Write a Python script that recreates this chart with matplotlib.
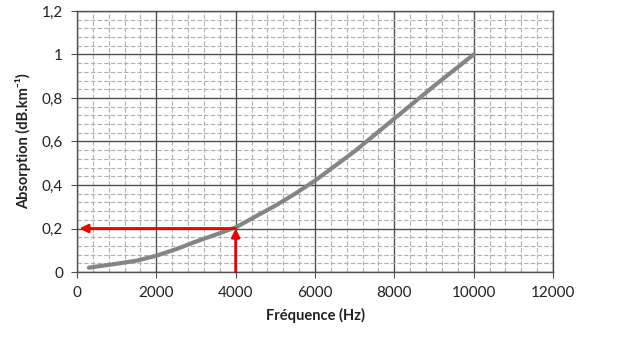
import matplotlib
matplotlib.use("Agg")
import matplotlib.pyplot as plt
from matplotlib.ticker import MultipleLocator, FuncFormatter

freq = [300, 1000, 1500, 2000, 2500, 3000, 3500, 4000, 4500, 5000, 5500, 6000,
        7000, 8000, 9000, 10000]
absorption = [0.02, 0.038, 0.052, 0.075, 0.105, 0.14, 0.172, 0.205, 0.255, 0.305,
              0.36, 0.42, 0.555, 0.705, 0.855, 1.0]

x_ticks = [0, 2000, 4000, 6000, 8000, 10000, 12000]
y_ticks = [0, 0.2, 0.4, 0.6, 0.8, 1.0, 1.2]

read_freq = 4000
read_abs = 0.2

plt.rcParams['font.family'] = ['Lato', 'DejaVu Sans']

fig = plt.figure(figsize=(6.28, 3.49), dpi=100)
ax = fig.add_axes([0.1226, 0.2206, 0.758, 0.748])

ax.set_xlim(0, 12000)
ax.set_ylim(0, 1.2)
ax.set_xticks(x_ticks)
ax.set_yticks(y_ticks)
ax.xaxis.set_minor_locator(MultipleLocator(400))
ax.yaxis.set_minor_locator(MultipleLocator(0.04))

def fr(v, pos):
    s = ('%.1f' % v).rstrip('0').rstrip('.')
    return s.replace('.', ',')
ax.yaxis.set_major_formatter(FuncFormatter(fr))

ax.grid(which='minor', color='#b0b0b0', linestyle=(0, (4, 2)), linewidth=0.8)
ax.grid(which='major', color='#505050', linestyle='-', linewidth=1.0)
ax.set_axisbelow(True)

for s in ax.spines.values():
    s.set_color('#505050')
    s.set_linewidth(1.0)

ax.tick_params(which='minor', length=0)
ax.tick_params(which='major', length=4, color='#505050', labelsize=11, pad=6,
               labelcolor='#222222')

ax.plot(freq, absorption, color='#858585', linewidth=3, solid_capstyle='round',
        solid_joinstyle='round', zorder=3)

ax.annotate('', xy=(60, read_abs), xytext=(read_freq, read_abs),
            arrowprops=dict(arrowstyle='-|>', color='#ee0000', lw=2,
                            mutation_scale=12, shrinkA=0, shrinkB=0), zorder=4)
ax.annotate('', xy=(read_freq, read_abs), xytext=(read_freq, 0),
            arrowprops=dict(arrowstyle='-|>', color='#ee0000', lw=2,
                            mutation_scale=12, shrinkA=0, shrinkB=0), zorder=4)

ax.set_xlabel('Fréquence (Hz)', fontsize=10.5, fontweight='bold', color='#222222', labelpad=6)
ax.set_ylabel('Absorption (dB.km⁻¹)', fontsize=10.5, fontweight='bold', color='#222222', labelpad=8)

fig.savefig('out.png', dpi=100)
